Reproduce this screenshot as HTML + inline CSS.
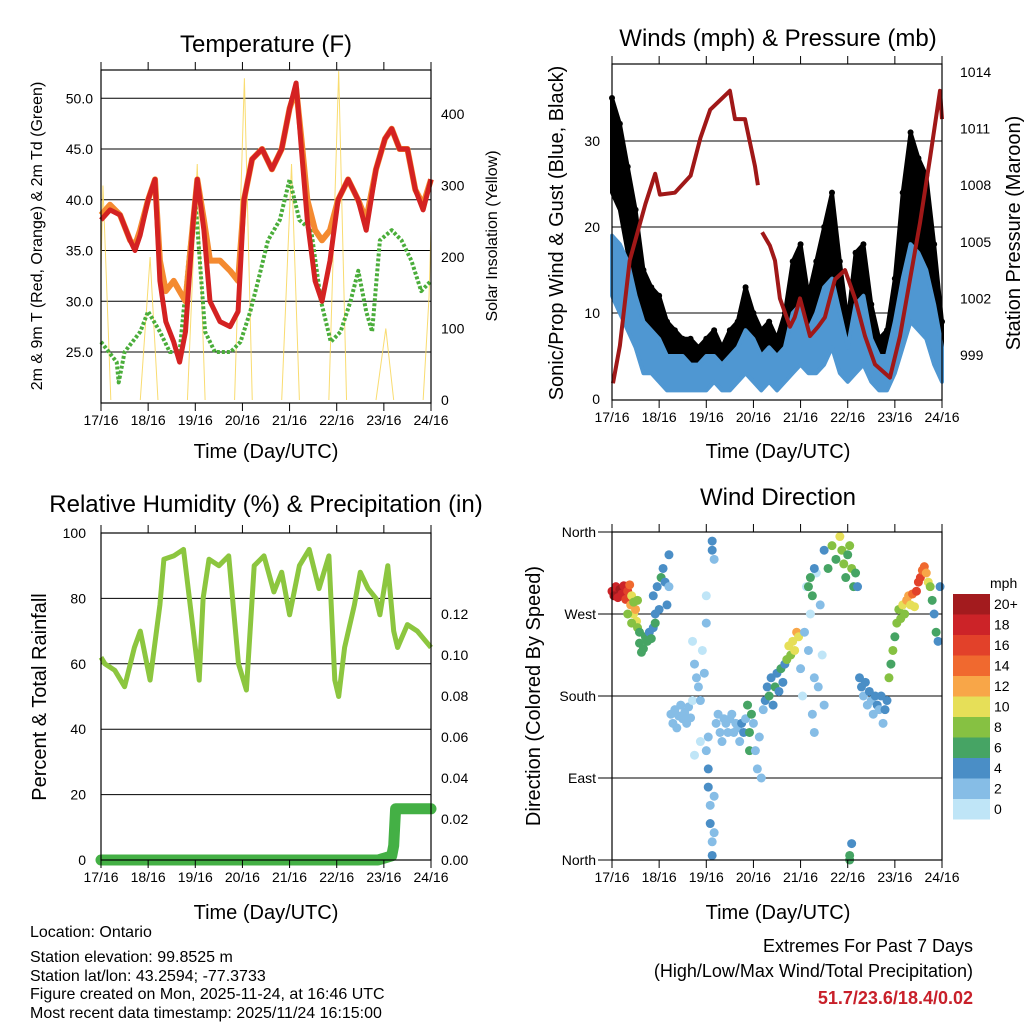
<!DOCTYPE html>
<html><head><meta charset="utf-8"><style>
body{margin:0;background:#fff;}
svg{display:block;font-family:"Liberation Sans",sans-serif;}
</style></head><body>
<svg id="c" width="1024" height="1024" viewBox="0 0 1024 1024">
<rect width="1024" height="1024" fill="#fff"/>
<text x="266" y="52" font-size="24" text-anchor="middle">Temperature (F)</text>
<text x="778" y="46" font-size="24" text-anchor="middle">Winds (mph) &amp; Pressure (mb)</text>
<text x="266" y="512" font-size="24" text-anchor="middle">Relative Humidity (%) &amp; Precipitation (in)</text>
<text x="778" y="505" font-size="24" text-anchor="middle">Wind Direction</text>
<text x="266" y="458" font-size="20" text-anchor="middle">Time (Day/UTC)</text>
<text x="778" y="458" font-size="20" text-anchor="middle">Time (Day/UTC)</text>
<text x="266" y="919" font-size="20" text-anchor="middle">Time (Day/UTC)</text>
<text x="778" y="919" font-size="20" text-anchor="middle">Time (Day/UTC)</text>
<text transform="translate(42,236) rotate(-90)" font-size="16" text-anchor="middle">2m &amp; 9m T (Red, Orange) &amp; 2m Td (Green)</text>
<text transform="translate(497,236) rotate(-90)" font-size="16" text-anchor="middle">Solar Insolation (Yellow)</text>
<text transform="translate(563,233) rotate(-90)" font-size="20" text-anchor="middle">Sonic/Prop Wind &amp; Gust (Blue, Black)</text>
<text transform="translate(1020,233) rotate(-90)" font-size="20" text-anchor="middle">Station Pressure (Maroon)</text>
<text transform="translate(46,697) rotate(-90)" font-size="20" text-anchor="middle">Percent &amp; Total Rainfall</text>
<text transform="translate(540,696) rotate(-90)" font-size="20" text-anchor="middle">Direction (Colored By Speed)</text>
<g font-size="16">
<text x="30" y="937">Location: Ontario</text>
<text x="30" y="962">Station elevation: 99.8525 m</text>
<text x="30" y="981">Station lat/lon: 43.2594; -77.3733</text>
<text x="30" y="999">Figure created on Mon, 2025-11-24, at 16:46 UTC</text>
<text x="30" y="1018">Most recent data timestamp: 2025/11/24 16:15:00</text>
</g>
<g font-size="18" text-anchor="end">
<text x="973" y="952">Extremes For Past 7 Days</text>
<text x="973" y="977">(High/Low/Max Wind/Total Precipitation)</text>
<text x="973" y="1004" fill="#c8202a" font-weight="bold">51.7/23.6/18.4/0.02</text>
</g>
</svg>
<script>
const dayLabels=["17/16","18/16","19/16","20/16","21/16","22/16","23/16","24/16"];
// Temperature panel
const tHours=[0,4.6,9.7,14.8,17.3,19.9,24,27.5,30,33,37,40,43,47,49,52.4,55.5,60.6,65.7,69.8,72.8,76.9,82,87,92,96,99.3,102,105,109,112.5,116.6,120.7,125.8,130.9,135,140,144.6,148,152,156,160,164,168];
const tRed=[38,39,38.5,36,35,36.5,40,42,32,28,26,24,27,38,42,37,30,28,27.5,29,40,44,45,43,45,49,51.5,45,38,32,30,34,40,42,40,37,43,46,47,45,45,41,39,42];
const tOrange=[38.5,39.5,38.5,36,35.5,37,40,42,34,31,32,31,30,38,42,38,34,34,33,32,40,44,45,43,45,49,51,46,40,37,36,37,40,42,40,38,43,46,47,45,45,41,39.5,42];
const tdHours=[0,4,8,9,12,16,20,24,30,35,40,45,48,53,58,66,71,76,80,85,91,96,101,107,112,117,122,127,131,135,138,142,148,153,158,163,168];
const tdVals=[26,25,24,22,25,26,27,29,27,25,25,35,40,27,25,25,26,29,32,36,38,42,38,37,30,26,27,30,33,29,27,36,37,36,34,31,32];
const insolDays=[0,1,2,3,4,5,6,7];
const insolPeak=[300,200,330,450,330,460,100,240];
const tTicks=[25,30,35,40,45,50];
const sTicks=[0,100,200,300,400];
// Winds panel
const wHours=[0,4,8,12,16,20,24,28,32,36,40,44,48,52,56,60,64,68,72,76,80,84,88,92,96,100,104,108,112,116,120,124,128,132,136,140,144,148,152,156,160,164,168];
const gustHi=[35,32,27,22,15,13,12,9,8,7,7,6,7,8,6,8,9,13,10,8,9,7,10,16,18,12,16,20,24,16,9,17,18,11,7,8,14,24,31,28,26,18,9];
const gustLo=[24,22,17,12,8,7,6,4,3,3,3,3,3,4,3,3,4,6,5,3,4,3,4,7,8,6,7,9,12,8,5,8,9,5,3,4,6,12,18,16,14,9,4];
const sustHi=[19,18,16,12,9,8,7,5,5,5,4,4,5,5,4,5,6,8,7,5,6,5,6,10,11,8,10,13,14,10,6,11,12,7,5,5,9,14,18,17,15,11,6];
const sustLo=[12,10,8,6,3,3,2,1,1,1,1,1,1,2,1,1,2,3,2,1,2,1,2,3,4,3,3,4,6,3,2,3,4,2,1,1,3,6,9,8,7,4,2];
const pHours=[0.5,4,9,17,22,24.4,32,40,45,50,55,60,62.6,67.7,72.8,74.3,75,76.4,80.4,83,85.5,90.6,93,95.7,100.8,104.9,108.4,113.5,118.6,123.7,128.8,133.9,141.5,146.6,151.7,156.8,162,167,168];
const pVals=[997.5,999.5,1004,1007,1008.6,1007.5,1007.6,1008.5,1010.5,1012,1012.5,1013,1011.5,1011.5,1009,1008,null,1005.5,1004.8,1004,1002,1000.5,1001,1002,1000,1000.5,1001,1003,1003.5,1002,1000,998.5,997.8,1000,1003,1006,1009.5,1013,1011.5];
const wTicks=[0,10,20,30];
const prTicks=[999,1002,1005,1008,1011,1014];
// RH panel
const rhHours=[0,2,7,12,17,20,25,30,32,37,42,47,50,52,55,60,65,70,74,78,83,88,92,96,101,106,111,116,119,121,124,129,132,136,140,142,146,149,151,156,161,168];
const rhVals=[62,60,58,53,65,70,55,78,92,93,95,70,55,80,92,90,93,60,52,90,93,82,88,75,90,95,83,93,55,50,65,78,88,83,80,75,90,70,65,72,70,65];
const precHours=[0,141,148,149,150,168];
const precVals=[0,0,0.002,0.007,0.025,0.025];
const rhTicks=[0,20,40,60,80,100];
const pcTicks=[0,0.02,0.04,0.06,0.08,0.10,0.12];
// Wind direction
const wdHours=[0,1,2,3,4,5,6,7,8,9,9.5,10,11,12,12.5,13,8,10,11,13,14,14,15,16,17,18,19,20,21,22,21,22,23,24,25,26,27,28,29,29,30,31,32,33,34,35,36,37,38,39,40,41,41,42,43,44,45,46,47,48,48,45,42,48,49,49,50,50,51,51,52,52,49,51,51,52,53,54,55,56,57,58,59,60,61,62,63,64,65,66,67,68,69,70,70,71,72,73,74,75,76,77,78,79,80,81,82,83,84,85,86,87,88,89,90,91,92,93,94,95,96,97,98,99,100,101,102,103,104,105,106,107,108,103,100,101,102,103,108,110,112,114,116,117,118,119,120,121,122,123,124,125,121,122,121,126,127,128,129,130,131,132,133,134,135,136,137,138,139,140,141,142,143,144,145,146,147,148,149,150,151,152,153,154,155,156,157,158,159,160,161,162,163,164,165,166,167];
const wdDeg=[295,290,300,288,297,292,301,286,295,302,280,290,270,275,262,285,270,260,283,255,250,238,228,232,245,240,250,243,255,260,290,270,300,275,310,320,305,280,335,300,160,150,165,145,158,170,155,162,150,168,156,175,240,215,200,190,175,230,205,260,290,130,115,120,100,80,60,40,20,5,70,30,135,350,340,330,150,160,140,130,155,150,140,155,160,140,150,145,130,150,140,155,170,140,120,160,150,120,100,135,90,165,175,190,180,200,170,190,205,185,210,195,215,220,235,225,240,230,250,245,210,180,250,300,230,270,160,200,315,190,280,225,170,140,300,310,290,320,340,320,345,330,355,340,325,310,335,345,320,300,315,300,5,18,0,200,190,180,195,170,185,175,160,180,170,165,180,150,165,175,200,215,230,245,260,275,265,280,270,285,290,280,292,278,295,305,310,318,322,315,305,300,285,270,250,240,300];
const wdSpeed=[19,20,18,19,20,18,19,17,16,14,12,11,10,12,10,9,8,8,9,8,7,6,6,7,6,6,5,6,5,6,4,5,4,5,6,5,4,4,4,3,3,2,3,2,3,3,3,3,2,3,3,1,1,2,2,2,2,1,2,2,1,1,1,3,4,4,3,4,3,4,2,3,3,4,4,3,2,3,3,2,3,3,2,3,2,3,3,3,3,4,4,3,7,7,6,6,2,2,2,2,3,2,4,5,6,5,4,6,5,4,6,4,5,8,10,9,10,11,12,10,2,1,2,1,2,1,2,2,1,3,2,1,2,2,6,7,6,5,5,6,8,7,10,9,8,7,7,9,8,7,6,4,6,4,7,4,4,3,4,3,4,3,2,4,4,3,4,3,4,4,8,7,8,7,8,9,8,10,9,12,13,11,14,10,16,17,16,15,14,13,11,8,6,5,7,4,4];
const spdLabels=["20+","18","16","14","12","10","8","6","4","2","0"];
const spdColors=["#a31b1e","#cc2328","#e2412a","#f0692f","#f8a648","#e6df58","#86c142","#46a464","#4a8ec6","#86bde6","#bfe5f7"];
const dirLabels=["North","East","South","West","North"];
const dirTicks=[0,90,180,270,360];

const NS="http://www.w3.org/2000/svg";
const svg=document.getElementById('c');
function el(tag,attrs,parent){const e=document.createElementNS(NS,tag);for(const k in attrs)e.setAttribute(k,attrs[k]);(parent||svg).appendChild(e);return e;}

function panel(name,x0,x1,y0,y1,gridYs,gridX0){
  const g=el('g',{});
  
  
  gridYs.forEach(y=>{const l=el('line',{x1:gridX0||x0,x2:x1,y1:y,y2:y,stroke:'#000','stroke-width':1},g);
    
    });
  return g;
}
function frame(name,x0,x1,y0,y1){
  const g=el('g',{});
  
  
  const r=el('rect',{x:x0,y:y0,width:x1-x0,height:y1-y0,fill:'none',stroke:'#000','stroke-width':1.2},g);
  
  
  dayLabels.forEach((d,i)=>{const x=x0+i*(x1-x0)/7;
    el('line',{x1:x,x2:x,y1:y1,y2:y1+8,stroke:'#000'},g);
    el('line',{x1:x,x2:x,y1:y0,y2:y0-8,stroke:'#000'},g);
    const t=el('text',{x:x,y:y1+22,'font-size':14,'text-anchor':'middle'},g);
    t.textContent=d;
    
    
  });
}
function yLabels(vals,fy,x,anchor,fmt,name){
  vals.forEach(v=>{const t=el('text',{x:x,y:fy(v)+5,'font-size':14,'text-anchor':anchor});
    t.textContent=fmt(v);
    
    });
}
function pathFrom(hs,vs,fx,fy){let d='',pen=false;hs.forEach((h,i)=>{if(vs[i]==null){pen=false;return;}d+=(pen?'L':'M')+fx(h).toFixed(1)+','+fy(vs[i]).toFixed(1);pen=true;});return d;}

// ---- Panel 1 temperature
{const x0=101,x1=431,y0=70,y1=403;
 const fx=h=>x0+h*(x1-x0)/168, fy=v=>352-(v-25)*10.15, fs=v=>400-v*0.715;
 panel('temperature-grid',x0,x1,y0,y1,tTicks.map(fy));
 const ins=el('g',{});
 
 
 insolDays.forEach((d,i)=>{const c=d*24;
   const p=el('path',{d:`M${fx(Math.max(0,c-4))},${fs(0)}L${fx(Math.max(0,c-1))},${fs(insolPeak[i]*0.6)}L${fx(Math.min(168,c+1))},${fs(insolPeak[i])}L${fx(Math.min(168,c+3))},${fs(insolPeak[i]*0.5)}L${fx(Math.min(168,c+5))},${fs(0)}`,fill:'none',stroke:'#f8d860','stroke-width':1,opacity:0.9},ins);
   
   });
 const td=el('path',{d:pathFrom(tdHours,tdVals,fx,fy),fill:'none',stroke:'#4aad3a','stroke-width':4,'stroke-dasharray':'3 2','stroke-linejoin':'round'});
 
 
 const o=el('path',{d:pathFrom(tHours,tOrange,fx,fy),fill:'none',stroke:'#f48a30','stroke-width':6,'stroke-linejoin':'round'});
 
 
 const r=el('path',{d:pathFrom(tHours,tRed,fx,fy),fill:'none',stroke:'#d42222','stroke-width':5,'stroke-linejoin':'round'});
 
 
 frame('temperature-frame',x0,x1,y0,y1);
 yLabels(tTicks,fy,93,'end',v=>v.toFixed(1),'temp-y-tick');
 yLabels(sTicks,fs,441,'start',v=>String(v),'insolation-y-tick');}

// ---- Panel 2 winds
{const x0=612,x1=942,y0=64,y1=400;
 const fx=h=>x0+h*(x1-x0)/168, fy=v=>399-v*8.6, fp=v=>355-(v-999)*18.87;
 panel('winds-grid',x0,x1,y0,y1,wTicks.slice(1).map(fy));
 function band(hi,lo,col,name,op){let d='';wHours.forEach((h,i)=>{d+=(i?'L':'M')+fx(h)+','+fy(hi[i]);});
   for(let i=wHours.length-1;i>=0;i--)d+='L'+fx(wHours[i])+','+fy(lo[i]);
   const p=el('path',{d:d+'Z',fill:col,stroke:col,'stroke-width':4,'stroke-linejoin':'round',opacity:op});
   
   }
 band(gustHi,gustLo,'#000','gust-series',1);
 wHours.forEach((h,i)=>{const c=el('circle',{cx:fx(h),cy:fy(gustHi[i]),r:3,fill:'#000'});
   
   });
 band(sustHi,sustLo,'#4f97d2','sustained-wind-series',1);
 const p=el('path',{d:pathFrom(pHours,pVals,fx,fp),fill:'none',stroke:'#a01818','stroke-width':4,'stroke-linejoin':'round'});
 
 
 frame('winds-frame',x0,x1,y0,y1);
 yLabels(wTicks,fy,600,'end',v=>String(v),'wind-y-tick');
 yLabels(prTicks,fp,960,'start',v=>String(v),'pressure-y-tick');}

// ---- Panel 3 RH
{const x0=101,x1=431,y0=533,y1=860;
 const fx=h=>x0+h*(x1-x0)/168, fy=v=>860-v*3.27, fq=v=>860-v*2050;
 panel('rh-grid',x0,x1,y0,y1,rhTicks.slice(1,5).map(fy));
 const r=el('path',{d:pathFrom(rhHours,rhVals,fx,fy),fill:'none',stroke:'#8cc63f','stroke-width':5,'stroke-linejoin':'round'});
 
 
 const pr=el('path',{d:pathFrom(precHours,precVals,fx,fq),fill:'none',stroke:'#44b045','stroke-width':11,'stroke-linecap':'round','stroke-linejoin':'round'});
 
 
 frame('rh-frame',x0,x1,y0,y1);
 yLabels(rhTicks,fy,86,'end',v=>String(v),'rh-y-tick');
 yLabels(pcTicks,fq,441,'start',v=>v.toFixed(2),'precip-y-tick');}

// ---- Panel 4 wind direction
{const x0=612,x1=942,y0=532,y1=860;
 const fx=h=>x0+h*(x1-x0)/168, fy=d=>860-d*328/360;
 panel('direction-grid',x0,x1,y0,y1,dirTicks.map(fy),598);
 const sc=d=>{const i=Math.min(10,Math.floor(d/2));return spdColors[10-i];};
 wdHours.forEach((h,i)=>{const c=el('circle',{cx:fx(h),cy:fy(wdDeg[i]),r:4.5,fill:sc(wdSpeed[i])});
   
   });
 frame('direction-frame',x0,x1,y0,y1);
 el('line',{x1:598,x2:612,y1:532,y2:532,stroke:'#000'});
 dirLabels.forEach((l,i)=>{const t=el('text',{x:596,y:fy(dirTicks[i])+5,'font-size':14,'text-anchor':'end'});
   t.textContent=l;
   
   });
 const lg=el('g',{});
 
 
 const lt=el('text',{x:990,y:588,'font-size':14},lg);
 lt.textContent='mph';
 spdLabels.forEach((l,i)=>{const y=594+i*20.5;
   const b=el('rect',{x:953,y:y,width:37,height:20.5,fill:spdColors[i]},lg);
   
   
   const t=el('text',{x:994,y:y+15,'font-size':14},lg);
   t.textContent=l;
   
   });}
</script>
</body></html>
